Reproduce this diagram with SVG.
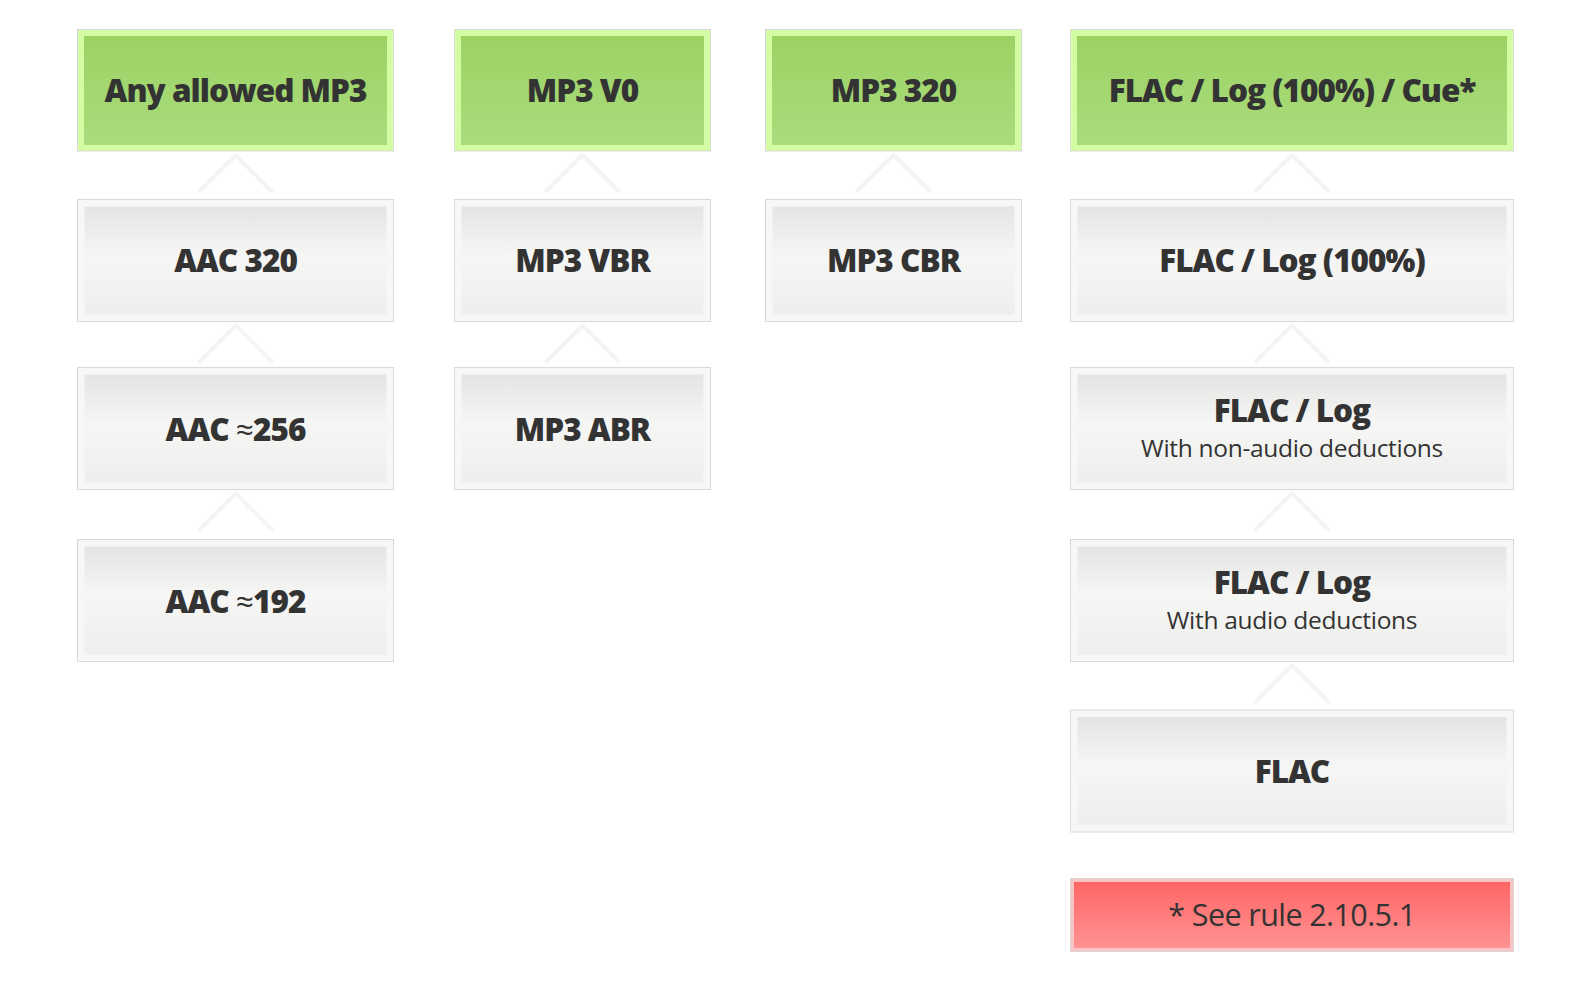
<svg xmlns="http://www.w3.org/2000/svg" width="1595" height="997" viewBox="0 0 1595 997">
<style>
.frame{stroke:#d9d9d9;stroke-width:1}
.gframe{fill:#d4fca2}
.nframe{fill:#f7f7f7}
.rframe{fill:#f9c4c4}
.t{font-family:"Open Sans","Noto Sans","DejaVu Sans",sans-serif;font-weight:800;font-size:31.5px;fill:#333;text-anchor:middle;letter-spacing:-1px}
.s{font-family:"Open Sans","Noto Sans","DejaVu Sans",sans-serif;font-weight:400;font-size:24.5px;fill:#333;text-anchor:middle;letter-spacing:-0.3px}
.r{font-family:"Open Sans","Noto Sans","DejaVu Sans",sans-serif;font-weight:400;font-size:30.5px;fill:#333;text-anchor:middle;letter-spacing:-0.6px}
.chev{fill:none;stroke:#f4f4f4;stroke-width:4;stroke-linecap:round;stroke-linejoin:round}
</style>
<defs>
<linearGradient id="gg" x1="0" y1="0" x2="0" y2="1">
<stop offset="0" stop-color="#9cd264"/>
<stop offset="1" stop-color="#aadc7c"/>
</linearGradient>
<linearGradient id="ng" x1="0" y1="0" x2="0" y2="1">
<stop offset="0" stop-color="#e4e4e2"/>
<stop offset="0.45" stop-color="#f6f6f4"/>
<stop offset="1" stop-color="#eeeeec"/>
</linearGradient>
<linearGradient id="rg" x1="0" y1="0" x2="0" y2="1">
<stop offset="0" stop-color="#ff6666"/>
<stop offset="1" stop-color="#ff9292"/>
</linearGradient>
</defs>
<rect width="1595" height="997" fill="#fff"/>
<g id="connectors">
<path class="chev" d="M199.5 191L235.5 155L271.5 191"/>
<path class="chev" d="M199.5 361.5L235.5 325.5L271.5 361.5"/>
<path class="chev" d="M199.5 529.5L235.5 493.5L271.5 529.5"/>
<path class="chev" d="M546.5 191L582.5 155L618.5 191"/>
<path class="chev" d="M546.5 361.5L582.5 325.5L618.5 361.5"/>
<path class="chev" d="M857.5 191L893.5 155L929.5 191"/>
<path class="chev" d="M1256 191L1292 155L1328 191"/>
<path class="chev" d="M1256 361.5L1292 325.5L1328 361.5"/>
<path class="chev" d="M1256 529.5L1292 493.5L1328 529.5"/>
<path class="chev" d="M1256 701.5L1292 665.5L1328 701.5"/>
</g>
<g id="any-mp3">
<rect class="frame gframe" x="77.5" y="29.5" width="316" height="121.5"/>
<rect x="84" y="36" width="303" height="109" fill="url(#gg)"/>
<text class="t" x="235.5" y="102">Any allowed MP3</text>
</g>
<g id="aac320">
<rect class="frame nframe" x="77.5" y="199.5" width="316" height="122"/>
<rect x="84.5" y="206.5" width="302" height="108" fill="url(#ng)"/>
<text class="t" x="235.5" y="272">AAC 320</text>
</g>
<g id="aac256">
<rect class="frame nframe" x="77.5" y="367.5" width="316" height="122"/>
<rect x="84.5" y="374.5" width="302" height="108" fill="url(#ng)"/>
<text class="t" x="235.5" y="440.5">AAC <tspan font-weight="400">≈</tspan>256</text>
</g>
<g id="aac192">
<rect class="frame nframe" x="77.5" y="539.5" width="316" height="122"/>
<rect x="84.5" y="546.5" width="302" height="108" fill="url(#ng)"/>
<text class="t" x="235.5" y="612.5">AAC <tspan font-weight="400">≈</tspan>192</text>
</g>
<g id="mp3v0">
<rect class="frame gframe" x="454.5" y="29.5" width="256" height="121.5"/>
<rect x="461" y="36" width="243" height="109" fill="url(#gg)"/>
<text class="t" x="582.5" y="102">MP3 V0</text>
</g>
<g id="mp3vbr">
<rect class="frame nframe" x="454.5" y="199.5" width="256" height="122"/>
<rect x="461.5" y="206.5" width="242" height="108" fill="url(#ng)"/>
<text class="t" x="582.5" y="272">MP3 VBR</text>
</g>
<g id="mp3abr">
<rect class="frame nframe" x="454.5" y="367.5" width="256" height="122"/>
<rect x="461.5" y="374.5" width="242" height="108" fill="url(#ng)"/>
<text class="t" x="582.5" y="440.5">MP3 ABR</text>
</g>
<g id="mp3-320">
<rect class="frame gframe" x="765.5" y="29.5" width="256" height="121.5"/>
<rect x="772" y="36" width="243" height="109" fill="url(#gg)"/>
<text class="t" x="893.5" y="102">MP3 320</text>
</g>
<g id="mp3cbr">
<rect class="frame nframe" x="765.5" y="199.5" width="256" height="122"/>
<rect x="772.5" y="206.5" width="242" height="108" fill="url(#ng)"/>
<text class="t" x="893.5" y="272">MP3 CBR</text>
</g>
<g id="flac-log-cue">
<rect class="frame gframe" x="1070.5" y="29.5" width="443" height="121.5"/>
<rect x="1077" y="36" width="430" height="109" fill="url(#gg)"/>
<text class="t" x="1292" y="102">FLAC / Log (100%) / Cue*</text>
</g>
<g id="flac-log-100">
<rect class="frame nframe" x="1070.5" y="199.5" width="443" height="122"/>
<rect x="1077.5" y="206.5" width="429" height="108" fill="url(#ng)"/>
<text class="t" x="1292" y="272">FLAC / Log (100%)</text>
</g>
<g id="flac-log-nonaudio">
<rect class="frame nframe" x="1070.5" y="367.5" width="443" height="122"/>
<rect x="1077.5" y="374.5" width="429" height="108" fill="url(#ng)"/>
<text class="t" x="1292" y="421.5">FLAC / Log</text>
<text class="s" x="1292" y="456.5">With non-audio deductions</text>
</g>
<g id="flac-log-audio">
<rect class="frame nframe" x="1070.5" y="539.5" width="443" height="122"/>
<rect x="1077.5" y="546.5" width="429" height="108" fill="url(#ng)"/>
<text class="t" x="1292" y="593.5">FLAC / Log</text>
<text class="s" x="1292" y="628.5">With audio deductions</text>
</g>
<g id="flac">
<rect class="frame nframe" x="1070.5" y="710" width="443" height="122"/>
<rect x="1077.5" y="717" width="429" height="108" fill="url(#ng)"/>
<text class="t" x="1292" y="782.5">FLAC</text>
</g>
<g id="note">
<rect class="frame rframe" x="1070.5" y="878.5" width="443" height="73"/>
<rect x="1074" y="882" width="436" height="66" fill="url(#rg)"/>
<text class="r" x="1292" y="926">* See rule 2.10.5.1</text>
</g>
</svg>
